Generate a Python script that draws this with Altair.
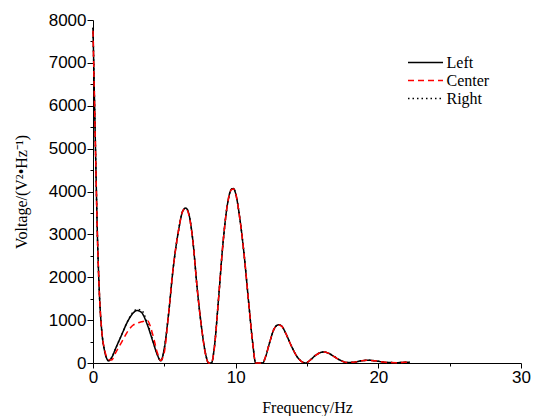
import altair as alt
import pandas as pd

freq = [0, 0.1, 0.2, 0.3, 0.45, 0.6, 0.8, 1.0, 1.1, 1.3, 1.6, 2.0, 2.4, 2.8, 3.1, 3.4, 3.8, 4.2,
        4.5, 4.75, 5.0, 5.3, 5.6, 6.0, 6.3, 6.5, 6.7, 7.0, 7.3, 7.6, 7.9, 8.1, 8.3, 8.5, 8.8,
        9.1, 9.4, 9.7, 9.85, 10.0, 10.3, 10.6, 10.9, 11.2, 11.4, 11.9, 12.1, 12.4, 12.7, 13.0,
        13.2, 13.5, 13.9, 14.3, 14.6, 14.9, 15.2, 15.6, 16.0, 16.2, 16.5, 16.9, 17.3, 17.8,
        18.3, 18.8, 19.3, 19.8, 20.3, 20.8, 21.3, 21.8, 22.2]

left = [7820, 6200, 4600, 3100, 1600, 800, 300, 80, 50, 120, 350, 650, 950, 1160, 1225, 1180, 900, 500,
        200, 50, 350, 1150, 2150, 3100, 3550, 3615, 3500, 2850, 1750, 850, 200, 0, 0, 350, 1500,
        2750, 3650, 4050, 4070, 3950, 3350, 2500, 1450, 450, 0, 0, 150, 500, 800, 890,
        870, 700, 400, 150, 40, 0, 60, 180, 250, 258, 230, 150, 70, 12,
        20, 50, 65, 50, 25, 10, 8, 15, 20]

center = [7750, 6150, 4600, 3100, 1600, 800, 320, 120, 80, 70, 250, 480, 720, 880, 930, 960, 990, 650,
          250, 60, 250, 1150, 2150, 3100, 3550, 3600, 3480, 2850, 1750, 850, 180, 0, 0, 330, 1500,
          2750, 3650, 4040, 4060, 3950, 3350, 2500, 1450, 450, 0, 0, 150, 500, 800, 885,
          865, 700, 400, 150, 40, 0, 60, 180, 250, 255, 230, 150, 70, 12,
          20, 50, 62, 50, 25, 10, 8, 15, 20]

right = [7820, 6200, 4600, 3100, 1600, 800, 300, 80, 50, 120, 350, 650, 960, 1180, 1250, 1230, 950, 520,
         200, 50, 350, 1150, 2150, 3100, 3550, 3615, 3500, 2850, 1750, 850, 200, 0, 0, 350, 1500,
         2750, 3650, 4050, 4070, 3950, 3350, 2500, 1450, 450, 0, 0, 150, 500, 800, 890,
         870, 700, 400, 150, 40, 0, 60, 180, 250, 258, 230, 150, 70, 12,
         20, 50, 65, 50, 25, 10, 8, 15, 20]

series_names = ["Left", "Center", "Right"]
series_colors = ["#000000", "#ff0000", "#000000"]
series_dashes = [[1, 0], [6, 4], [1.5, 3]]

x_ticks = [0, 5, 10, 15, 20, 25, 30]
y_ticks = list(range(0, 8001, 500))

rows = []
for name, vals in zip(series_names, [left, center, right]):
    for f, v in zip(freq, vals):
        rows.append({"freq": f, "volt": v, "series": name})
df = pd.DataFrame(rows)

legend = alt.Legend(title=None, orient="none", legendX=324.5, legendY=34.5,
                    symbolType="M-2.5,0H2.5", symbolSize=196, symbolStrokeWidth=1.5,
                    symbolFillColor="transparent",
                    labelFont="Liberation Serif", labelFontSize=16, rowPadding=2,
                    labelOffset=13, padding=0)

color = alt.Color("series:N", scale=alt.Scale(domain=series_names, range=series_colors), legend=legend)
dash = alt.StrokeDash("series:N", scale=alt.Scale(domain=series_names, range=series_dashes), legend=legend)

x = alt.X("freq:Q", title="Frequency/Hz",
          scale=alt.Scale(domain=[0, 30], nice=False),
          axis=alt.Axis(values=x_ticks, format="d", labelFlush=False,
                        labelExpr="datum.value % 10 == 0 ? datum.label : ''",
                        tickSize=alt.condition("datum.value % 10 == 0", alt.value(5), alt.value(3)),
                        labelPadding=1, titlePadding=14))
y = alt.Y("volt:Q", title="Voltage/(V²•Hz⁻¹)",
          scale=alt.Scale(domain=[0, 8000], nice=False),
          axis=alt.Axis(values=y_ticks, format="d", labelFlush=False,
                        labelExpr="datum.value % 1000 == 0 ? datum.label : ''",
                        tickSize=alt.condition("datum.value % 1000 == 0", alt.value(6), alt.value(3)),
                        labelPadding=1, titlePadding=19))

def layer(name):
    return alt.Chart(df).transform_filter(alt.datum.series == name).mark_line(
        strokeWidth=1.5, interpolate="monotone").encode(x=x, y=y, color=color, strokeDash=dash)

chart = alt.layer(layer("Left"), layer("Right"), layer("Center")).properties(
    width=428, height=343,
    autosize=alt.AutoSizeParams(type="none"),
    padding={"left": 85, "top": 12, "right": 10, "bottom": 53},
).configure_view(stroke=None).configure_axis(
    grid=False, domainColor="black", tickColor="black", domainWidth=1, tickWidth=1,
    labelFont="Liberation Sans", labelFontSize=17, labelColor="black",
    titleFont="Liberation Serif", titleFontSize=16, titleFontWeight="normal", titleColor="black",
)

chart.save("out.html", embed_options={"renderer": "svg", "actions": False})
